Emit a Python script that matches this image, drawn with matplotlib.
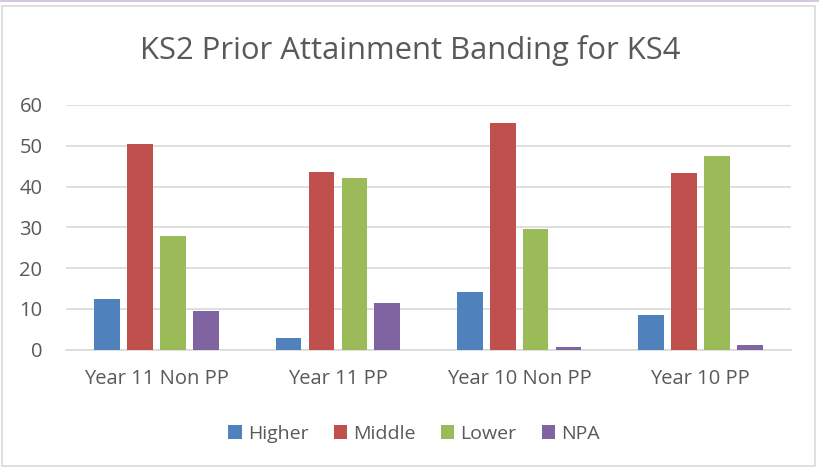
import matplotlib.pyplot as plt
import numpy as np
from matplotlib.patches import Rectangle

plt.rcParams['font.family'] = ['Open Sans', 'DejaVu Sans']

categories = ['Year 11 Non PP', 'Year 11 PP', 'Year 10 Non PP', 'Year 10 PP']
higher = [12.4, 2.8, 14.1, 8.4]
middle = [50.4, 43.6, 55.7, 43.2]
lower = [27.8, 42.0, 29.6, 47.4]
npa = [9.4, 11.5, 0.6, 1.0]
series_names = ['Higher', 'Middle', 'Lower', 'NPA']
colors = ['#4F81BD', '#C0504D', '#9BBB59', '#8064A2']

text_col = '#595959'

fig = plt.figure(figsize=(8.19, 4.68), dpi=100)
ax = fig.add_axes([66 / 819, 1 - 349.5 / 468, (791 - 66) / 819, (349.5 - 105) / 468])

x = np.arange(len(categories))
slot = 0.182  # spacing of bars within a group
width = 0.142
for i, (vals, name, c) in enumerate(zip([higher, middle, lower, npa], series_names, colors)):
    ax.bar(x + (i - 1.5) * slot, vals, width, color=c, label=name, zorder=3)

ax.set_xlim(-0.5, len(categories) - 0.5)
ax.set_ylim(0, 60)
ax.set_yticks(np.arange(0, 61, 10))
ax.set_xticks(x)
ax.set_xticklabels(categories)
ax.grid(axis='y', color='#D9D9D9', linewidth=1.2, zorder=0)
for s in ['top', 'right', 'left']:
    ax.spines[s].set_visible(False)
ax.spines['bottom'].set_color('#D9D9D9')
ax.spines['bottom'].set_linewidth(1.2)
ax.tick_params(axis='both', length=0, colors=text_col, labelsize=14.5)
ax.tick_params(axis='y', pad=17)
ax.tick_params(axis='x', pad=14)

fig.text(410 / 819, 1 - 51 / 468, 'KS2 Prior Attainment Banding for KS4',
         ha='center', va='center', fontsize=22.3, color=text_col)

leg = fig.legend(loc='center', bbox_to_anchor=(414 / 819, 1 - 434 / 468), ncol=4,
                 frameon=False, fontsize=14, handlelength=0.7, handleheight=0.7,
                 handletextpad=0.3, columnspacing=1.3)
for t in leg.get_texts():
    t.set_color(text_col)

# chart border
fig.patches.append(Rectangle((2 / 819, 2 / 468), 813 / 819, 460 / 468,
                             transform=fig.transFigure, fill=False,
                             edgecolor='#D9D9D9', linewidth=1.2))
fig.patches.append(Rectangle((0, 466 / 468), 1, 2 / 468, transform=fig.transFigure,
                             color='#D5C8DF', linewidth=0))

fig.savefig('out.png', dpi=100)
